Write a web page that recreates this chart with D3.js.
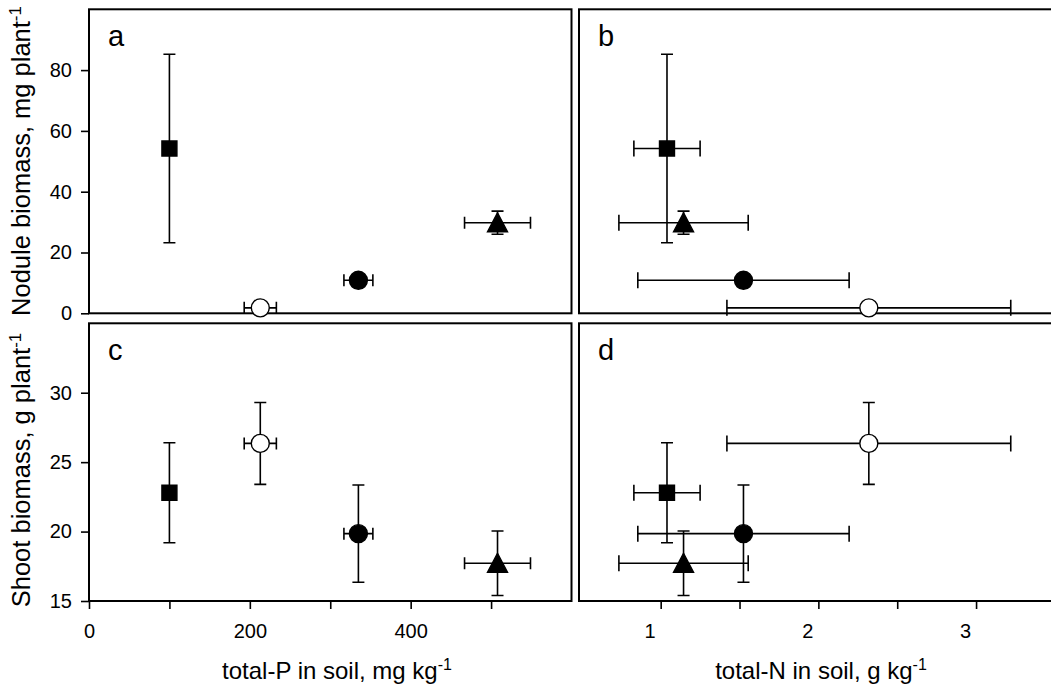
<!DOCTYPE html>
<html>
<head>
<meta charset="utf-8">
<script src="https://cdn.jsdelivr.net/npm/d3@7"></script>
<style>
body { margin: 0; background: #fff; }
svg { font-family: "Liberation Sans", Arial, sans-serif; }
</style>
</head>
<body>
<div id="chart"></div>
<script>
// treatments: square, open circle, filled circle, triangle
var treatments = ["square", "openCircle", "filledCircle", "triangle"];
var soilP = [100, 213, 335, 508];
var soilPErr = [0, 20, 18, 41];
var soilN = [1.04, 2.32, 1.525, 1.145];
var soilNErr = [0.21, 0.9, 0.67, 0.41];
var nodule = [54.2, 1.8, 10.85, 29.8];
var noduleErr = [31, 0.8, 0.8, 3.8];
var shoot = [22.8, 26.35, 19.85, 17.72];
var shootErr = [3.6, 2.95, 3.5, 2.32];

var noduleTicks = [0, 20, 40, 60, 80];
var shootTicks = [15, 20, 25, 30];
var pTicks = [0, 100, 200, 300, 400, 500];
var pLabels = [0, 200, 400];
var nTicks = [1, 1.5, 2, 2.5, 3];
var nLabels = [1, 2, 3];

var svg = d3.select("#chart").append("svg")
    .attr("width", 1051)
    .attr("height", 689);

var xP = d3.scaleLinear().domain([0, 600]).range([89, 571.5]),
    xN = d3.scaleLinear().domain([0.482, 3.545]).range([579, 1062]),
    yNod = d3.scaleLinear().domain([0, 100]).range([313.3, 9.3]),
    yShoot = d3.scaleLinear().domain([15, 35]).range([601, 323.3]);

var panels = [
    {letter: "a", x: xP, y: yNod, xv: soilP, xe: soilPErr, yv: nodule, ye: noduleErr, cap: 6},
    {letter: "b", x: xN, y: yNod, xv: soilN, xe: soilNErr, yv: nodule, ye: noduleErr, cap: 8},
    {letter: "c", x: xP, y: yShoot, xv: soilP, xe: soilPErr, yv: shoot, ye: shootErr, cap: 6},
    {letter: "d", x: xN, y: yShoot, xv: soilN, xe: soilNErr, yv: shoot, ye: shootErr, cap: 8}
];

function markerPath(kind) {
    if (kind == "square") return "M-7.5,-7.5H7.5V7.5H-7.5Z";
    if (kind == "triangle") return "M0,-10L10,9L-10,9Z";
    return d3.arc()({innerRadius: 0, outerRadius: 9, startAngle: 0, endAngle: 2 * Math.PI});
}

panels.forEach(function(p) {
    var g = svg.append("g");
    var x0 = p.x.range()[0], x1 = p.x.range()[1],
        yTop = p.y.range()[1], yBot = p.y.range()[0];

    g.append("rect")
        .attr("x", x0).attr("y", yTop)
        .attr("width", x1 - x0).attr("height", yBot - yTop)
        .attr("fill", "none").attr("stroke", "#000").attr("stroke-width", 2);

    var pts = treatments.map(function(t, i) {
        return {kind: t, x: p.xv[i], xe: p.xe[i], y: p.yv[i], ye: p.ye[i]};
    });

    var err = g.append("g").attr("stroke", "#000").attr("stroke-width", 1.6).attr("fill", "none");

    pts.forEach(function(d) {
        var cx = p.x(d.x), cy = p.y(d.y);
        if (d.xe > 0) {
            var xl = p.x(d.x - d.xe), xr = p.x(d.x + d.xe);
            err.append("path").attr("d",
                "M" + xl + "," + cy + "H" + xr +
                "M" + xl + "," + (cy - p.cap) + "V" + (cy + p.cap) +
                "M" + xr + "," + (cy - p.cap) + "V" + (cy + p.cap));
        }
        if (d.ye > 0) {
            var yt = p.y(d.y + d.ye), yb = p.y(d.y - d.ye);
            err.append("path").attr("d",
                "M" + cx + "," + yt + "V" + yb +
                "M" + (cx - 6) + "," + yt + "H" + (cx + 6) +
                "M" + (cx - 6) + "," + yb + "H" + (cx + 6));
        }
    });

    g.selectAll(".marker")
        .data(pts)
        .enter().append("path")
        .attr("class", "marker")
        .attr("transform", function(d) { return "translate(" + p.x(d.x) + "," + p.y(d.y) + ")"; })
        .attr("d", function(d) { return markerPath(d.kind); })
        .attr("fill", function(d) { return d.kind == "openCircle" ? "#fff" : "#000"; })
        .attr("stroke", "#000")
        .attr("stroke-width", 1.4);

    g.append("text")
        .attr("x", x0 + 19)
        .attr("y", yTop + 37)
        .style("font-size", "29px")
        .text(p.letter);
});

// y axes on the left panels
function styleAxis(sel) {
    sel.select(".domain").remove();
    sel.selectAll(".tick line").attr("stroke", "#000").attr("stroke-width", 1.6);
    sel.selectAll(".tick text").attr("fill", "#000").style("font-size", "20px");
}

svg.append("g")
    .attr("transform", "translate(89,0)")
    .call(d3.axisLeft(yNod).tickValues(noduleTicks).tickSize(8).tickPadding(9))
    .call(styleAxis);

svg.append("g")
    .attr("transform", "translate(89,0)")
    .call(d3.axisLeft(yShoot).tickValues(shootTicks).tickSize(8).tickPadding(9))
    .call(styleAxis);

svg.append("g")
    .attr("transform", "translate(0,601)")
    .call(d3.axisBottom(xP).tickValues(pTicks).tickSize(8).tickPadding(15)
        .tickFormat(function(d) { return pLabels.indexOf(d) >= 0 ? d : ""; }))
    .call(styleAxis);

var nAxis = svg.append("g")
    .attr("transform", "translate(0,601)")
    .call(d3.axisBottom(xN).tickValues(nTicks).tickSize(8).tickPadding(15)
        .tickFormat(function(d) { return nLabels.indexOf(d) >= 0 ? d : ""; }))
    .call(styleAxis);
// labels in the original sit a little left of their ticks
nAxis.selectAll(".tick text").attr("dx", -11);

// axis titles
function title(x, y, rot, size, main, sup) {
    var t = svg.append("text")
        .attr("transform", "translate(" + x + "," + y + ")" + (rot ? " rotate(-90)" : ""))
        .attr("text-anchor", "middle")
        .style("font-size", size + "px")
        .text(main);
    t.append("tspan").attr("dy", "-0.55em").style("font-size", Math.round(size * 0.65) + "px").text(sup);
}

title(30, 161, true, 25.5, "Nodule biomass, mg plant", "-1");
title(30, 470, true, 25.5, "Shoot biomass, g plant", "-1");
title(337, 679, false, 24, "total-P in soil, mg kg", "-1");
title(821, 679, false, 24, "total-N in soil, g kg", "-1");
</script>
</body>
</html>
